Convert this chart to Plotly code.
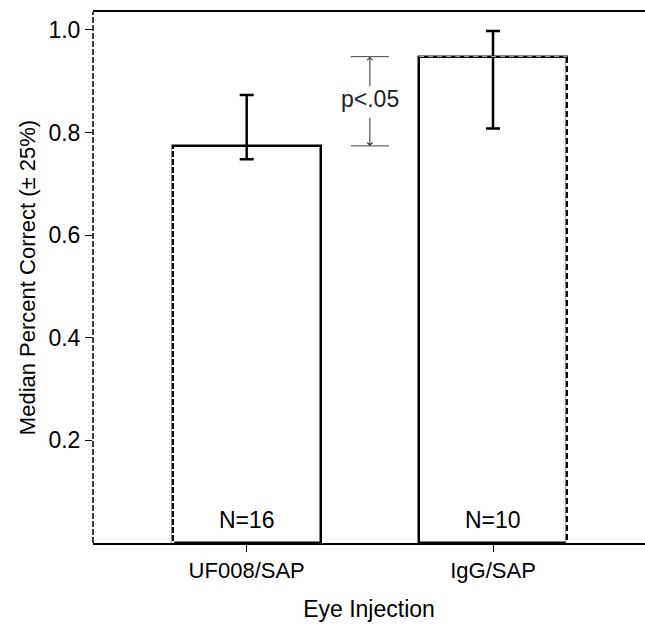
import plotly.graph_objects as go

categories = ["UF008/SAP", "IgG/SAP"]
medians = [0.774, 0.948]
q_upper = [0.873, 0.998]
q_lower = [0.748, 0.808]
n_labels = ["N=16", "N=10"]
y_ticks = [0.2, 0.4, 0.6, 0.8, 1.0]
p_text = "p<.05"

FONT = "Liberation Sans, Arial, Helvetica, sans-serif"
xpos = list(range(len(categories)))
bw = 0.6

fig = go.Figure()
fig.add_trace(go.Bar(
    x=xpos, y=medians, width=bw,
    marker=dict(color="white", line=dict(color="black", width=2.5)),
    error_y=dict(type="data", symmetric=False,
                 array=[u - m for u, m in zip(q_upper, medians)],
                 arrayminus=[m - l for m, l in zip(medians, q_lower)],
                 color="black", thickness=2.5, width=7),
    showlegend=False, hoverinfo="skip",
))

# dashed-looking edges (white dash overlay on black outline)
fig.add_trace(go.Scatter(x=[xpos[0] - bw / 2, xpos[0] - bw / 2], y=[0, medians[0]],
                         mode="lines", line=dict(color="white", width=2.5, dash="2px,6px"),
                         showlegend=False, hoverinfo="skip"))
fig.add_trace(go.Scatter(x=[xpos[1] + bw / 2, xpos[1] + bw / 2], y=[0, medians[1]],
                         mode="lines", line=dict(color="white", width=2.5, dash="3px,6px"),
                         showlegend=False, hoverinfo="skip"))
fig.add_trace(go.Scatter(x=[xpos[1] - bw / 2, xpos[1] + bw / 2], y=[medians[1], medians[1]],
                         mode="lines", line=dict(color="#bbbbbb", width=1, dash="5px,4px"),
                         showlegend=False, hoverinfo="skip"))

# significance bracket
mid = (xpos[0] + xpos[1]) / 2
bh = 0.077
for v in (medians[1], medians[0]):
    fig.add_trace(go.Scatter(x=[mid - bh, mid + bh], y=[v, v], mode="lines",
                             line=dict(color="#444444", width=1),
                             showlegend=False, hoverinfo="skip"))

fig.add_annotation(x=mid, y=medians[1], ax=mid, ay=0.887, xref="x", yref="y",
                   axref="x", ayref="y", text="", showarrow=True, arrowhead=4,
                   arrowsize=1, arrowwidth=1, arrowcolor="#333333", standoff=0)
fig.add_annotation(x=mid, y=medians[0], ax=mid, ay=0.832, xref="x", yref="y",
                   axref="x", ayref="y", text="", showarrow=True, arrowhead=4,
                   arrowsize=1, arrowwidth=1, arrowcolor="#333333", standoff=0)
fig.add_annotation(x=mid, y=0.865, xref="x", yref="y", text=p_text, showarrow=False,
                   font=dict(family=FONT, size=23, color="#222222"))

for xi, lab in zip(xpos, n_labels):
    fig.add_annotation(x=xi, y=0.044, xref="x", yref="y", text=lab, showarrow=False,
                       font=dict(family=FONT, size=23, color="black"))

# dashed left axis
fig.add_shape(type="line", xref="paper", yref="paper", x0=0, x1=0, y0=0, y1=1,
              line=dict(color="black", width=1.5, dash="6px,2px"))

fig.update_layout(
    width=645, height=625,
    margin=dict(l=93, r=0, t=12, b=82),
    paper_bgcolor="white", plot_bgcolor="white",
    font=dict(family=FONT, color="black"),
    bargap=0,
)
fig.update_xaxes(
    range=[-0.624, 1.617], tickvals=xpos, ticktext=categories,
    showline=True, mirror=True, linecolor="black", linewidth=2,
    ticks="outside", ticklen=7, tickwidth=1, tickcolor="black",
    showgrid=False, zeroline=False,
    tickfont=dict(family=FONT, size=22, color="black"),
    title=dict(text="Eye Injection", font=dict(family=FONT, size=23, color="black"), standoff=18),
)
fig.update_yaxes(
    range=[0, 1.035], tickvals=y_ticks, tickformat=".1f",
    showline=False, ticks="outside", ticklen=7, tickwidth=1, tickcolor="black",
    showgrid=False, zeroline=False,
    tickfont=dict(family=FONT, size=23, color="black"),
    title=dict(text="Median Percent Correct (± 25%)", font=dict(family=FONT, size=22, color="black"), standoff=6),
)

fig.write_html("out.html", config={"displayModeBar": False},
               post_script="document.body.style.margin='0';document.body.style.overflow='hidden';")
